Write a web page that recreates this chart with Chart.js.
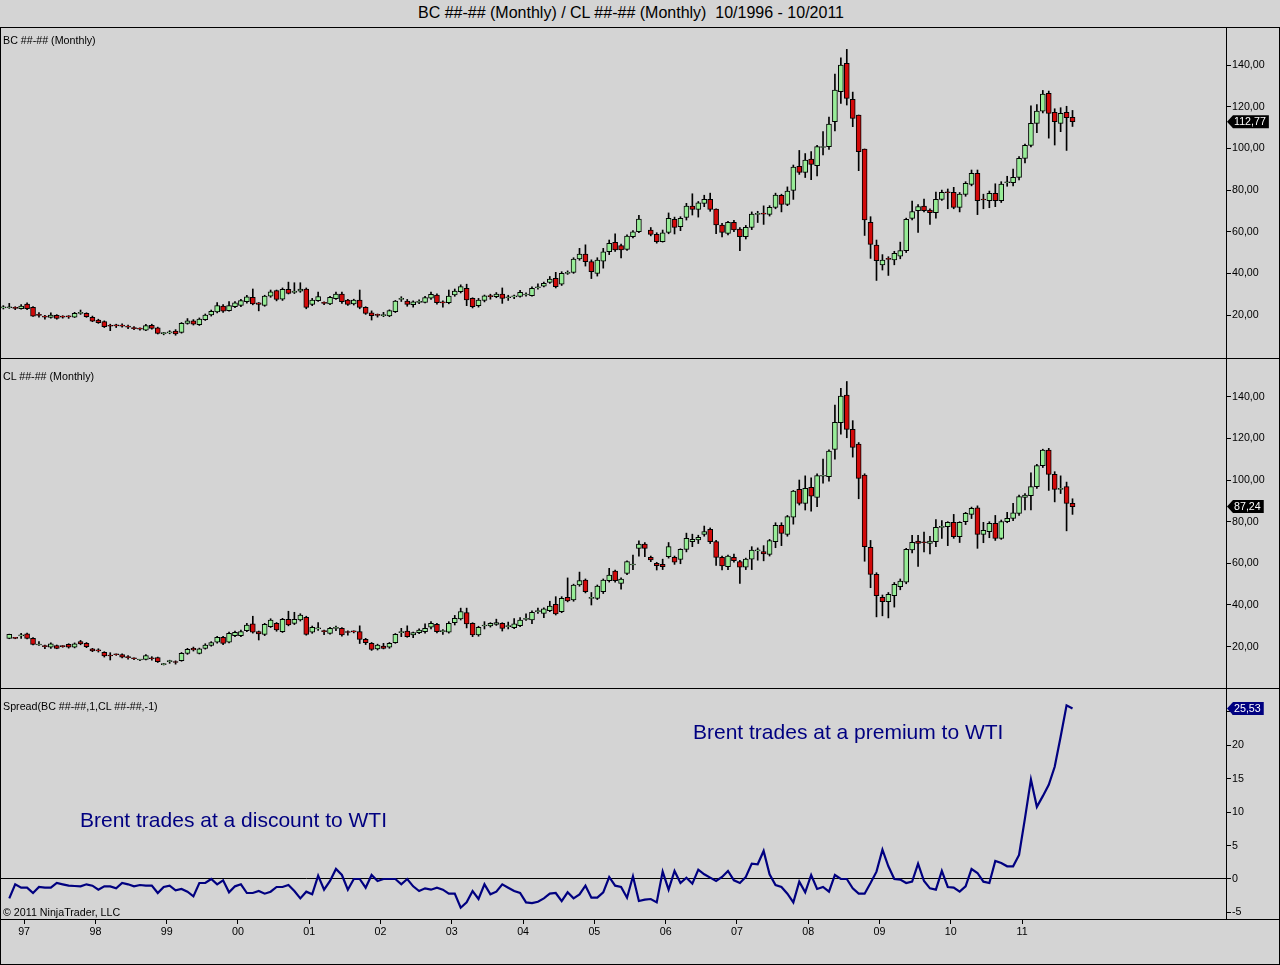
<!DOCTYPE html>
<html>
<head>
<meta charset="utf-8">
<script src="https://cdn.jsdelivr.net/npm/chart.js@4.4.0/dist/chart.umd.min.js"></script>
<style>
body { margin:0; background:#d4d4d4; width:1280px; height:965px; overflow:hidden; position:relative; font-family:"Liberation Sans", Arial, sans-serif; }
canvas { position:absolute; left:0; }
.hl { position:absolute; left:0; width:1280px; height:1px; background:#000; z-index:4; }
.vl { position:absolute; top:27px; width:1px; height:938px; background:#000; z-index:4; }
.lbl { position:absolute; left:3px; font-size:10.7px; line-height:12px; color:#000; white-space:pre; z-index:3; }
.note { position:absolute; font-size:21px; line-height:21px; color:#000080; white-space:pre; z-index:3; }
#title { position:absolute; left:418px; top:4px; font-size:16px; line-height:18px; white-space:pre; color:#000; }
</style>
</head>
<body>
<div id="title">BC ##-## (Monthly) / CL ##-## (Monthly)  10/1996 - 10/2011</div>

<canvas id="bcChart" width="1280" height="330" style="top:28px"></canvas>
<canvas id="clChart" width="1280" height="329" style="top:359px"></canvas>
<canvas id="spreadChart" width="1280" height="276" style="top:689px"></canvas>

<div class="hl" style="top:27px"></div>
<div class="hl" style="top:358px"></div>
<div class="hl" style="top:688px"></div>
<div class="hl" style="top:919px"></div>
<div class="hl" style="top:964px"></div>
<div class="vl" style="left:0"></div>
<div class="vl" style="left:1279px"></div>

<div class="lbl" style="top:34px">BC ##-## (Monthly)</div>
<div class="lbl" style="top:370px">CL ##-## (Monthly)</div>
<div class="lbl" style="top:700px">Spread(BC ##-##,1,CL ##-##,-1)</div>
<div class="lbl" style="top:906px">© 2011 NinjaTrader, LLC</div>
<div class="note" style="left:693px;top:721px">Brent trades at a premium to WTI</div>
<div class="note" style="left:80px;top:809px">Brent trades at a discount to WTI</div>

<script>
// monthly bars 10/1996 .. 10/2011, index 0 = Oct 1996
const bcOpen = [
 23.4,23.5,23.4,23.0,25.3,23.7,20.0,19.3,18.9,19.9,
 19.2,19.2,19.0,20.8,20.8,18.9,17.6,16.8,14.8,14.9,
 14.9,14.6,14.0,13.6,12.7,15.0,13.9,11.1,11.4,12.3,
 11.6,16.0,17.2,15.4,17.8,20.0,21.5,24.3,22.1,24.0,
 24.6,26.4,28.5,25.9,24.6,29.0,31.7,27.6,32.3,30.8,
 31.5,32.5,25.1,26.9,25.8,25.3,27.9,30.1,27.2,25.3,
 27.2,23.7,21.1,19.9,19.7,19.6,21.6,27.5,26.7,25.0,
 26.1,26.1,28.1,29.6,26.0,25.9,29.6,31.2,32.8,28.0,
 24.5,27.0,28.9,28.8,30.1,28.3,28.7,28.9,29.6,29.3,
 33.1,33.9,35.7,37.6,34.8,40.0,40.4,46.9,49.2,45.6,
 40.0,45.9,50.4,54.9,53.3,51.5,57.6,60.0,null,60.8,
 58.7,55.2,59.7,65.9,62.4,66.8,72.3,70.7,73.6,75.5,
 70.9,63.2,59.2,64.5,61.3,57.6,62.1,68.3,68.5,68.3,
 71.7,77.4,73.1,79.8,91.4,88.5,94.9,91.7,100.4,100.8,
 112.8,127.2,140.8,123.5,116.0,99.7,64.5,53.6,44.0,46.8,
 46.4,48.3,50.9,66.4,70.1,72.3,70.4,69.1,75.5,78.8,
 78.9,71.7,77.9,82.7,88.0,75.4,74.9,78.4,74.9,83.5,
 83.5,86.1,95.2,101.4,112.0,117.9,126.4,117.3,112.0,117.3,114.9
];
const bcHigh = [
 24.5,25.6,24.0,25.0,25.8,24.0,21.2,19.8,21.0,20.2,
 19.7,19.7,21.3,22.4,21.1,19.5,18.0,17.2,15.6,15.6,
 15.8,15.2,14.5,13.8,15.5,15.6,14.2,11.7,12.5,13.0,
 16.4,18.3,17.8,18.6,20.5,22.4,26.0,25.0,26.5,26.5,
 27.5,29.5,32.5,26.0,29.5,32.0,32.0,33.0,35.8,35.5,
 35.5,33.0,28.0,31.0,26.3,29.0,31.0,31.0,27.5,27.6,
 32.0,24.0,22.0,20.5,21.3,22.5,27.0,28.8,27.5,26.8,
 27.3,29.0,31.0,30.2,26.8,32.0,32.5,34.5,34.8,28.3,
 28.0,29.6,30.0,30.8,33.0,29.5,29.6,31.8,30.6,33.5,
 35.0,35.8,38.5,40.5,40.8,41.2,47.5,52.0,53.7,46.5,
 47.5,52.0,56.0,59.0,54.0,58.5,60.5,67.9,null,62.0,
 59.5,60.8,69.0,67.0,67.2,73.6,78.2,74.5,77.5,78.5,
 71.0,64.0,65.0,65.5,62.0,63.0,69.5,69.8,72.4,72.5,
 78.5,78.0,81.5,92.0,99.0,97.5,98.5,101.5,108.0,115.0,
 135.7,143.5,147.5,127.0,116.0,99.7,67.2,56.0,49.0,48.0,
 50.6,55.0,66.5,74.7,73.0,75.6,71.0,79.0,80.0,80.5,
 81.3,78.8,84.0,89.6,89.6,78.0,79.5,83.0,84.0,86.6,
 90.0,96.0,102.0,120.4,121.0,127.8,127.5,119.0,119.5,120.2,118.2
];
const bcLow = [
 22.9,23.2,22.6,22.8,22.6,19.3,19.0,18.0,18.5,18.0,
 18.5,18.4,18.8,20.3,18.9,16.8,16.0,14.0,12.5,14.0,
 14.2,13.5,13.0,12.7,12.5,13.2,10.9,10.5,11.0,10.3,
 11.3,15.6,15.2,15.0,17.4,19.5,21.0,21.2,21.8,23.5,
 24.0,25.7,24.9,22.0,24.2,28.5,26.8,27.0,30.1,30.3,
 30.9,23.0,24.5,26.5,25.0,25.0,27.5,25.6,24.6,24.8,
 23.0,20.3,17.6,19.0,19.2,19.2,21.2,26.5,24.2,23.8,
 25.4,25.8,27.5,25.2,23.8,25.4,29.0,30.6,24.5,23.4,
 23.8,26.3,27.6,28.3,25.6,27.0,27.8,28.6,29.0,29.0,
 32.4,33.5,35.2,33.0,34.2,39.5,40.0,46.3,43.5,37.5,
 38.7,42.5,49.0,50.5,47.4,51.0,57.0,59.5,null,58.0,
 54.5,55.0,59.0,58.9,60.5,65.6,68.0,67.0,72.0,69.8,
 59.0,57.5,58.5,60.0,50.9,56.5,61.0,64.4,63.5,67.5,
 71.0,69.5,72.5,75.5,87.5,86.0,85.0,86.8,96.8,99.5,
 108.4,121.6,120.8,110.4,89.3,58.2,47.2,36.6,41.6,39.0,
 44.1,47.0,50.0,65.6,59.6,69.5,63.5,66.5,75.0,71.0,
 71.0,69.5,77.0,82.0,68.2,71.0,71.5,72.0,74.0,81.8,
 82.0,84.8,93.0,100.7,107.5,117.0,104.9,101.6,108.0,99.0,110.5
];
const bcClose = [
 23.6,23.6,23.2,24.3,23.0,19.5,19.8,19.0,20.0,18.4,
 19.0,19.1,20.8,20.9,19.2,17.1,16.3,14.4,14.6,14.8,
 14.7,14.2,13.5,13.2,14.9,13.6,11.2,11.2,11.9,10.9,
 16.0,17.2,15.6,18.0,20.0,21.8,24.5,21.9,24.5,25.9,
 26.9,28.7,25.3,25.1,29.1,31.1,27.5,32.3,30.4,31.5,
 32.5,23.7,27.2,28.8,25.6,28.5,30.1,26.4,25.1,27.2,
 23.7,20.8,19.7,19.8,19.9,22.1,26.7,27.6,25.1,26.3,
 26.2,28.4,29.9,25.9,25.8,29.1,31.5,33.6,27.2,24.0,
 27.2,29.2,28.8,30.1,28.0,28.4,28.9,30.9,30.1,32.8,
 33.2,35.2,37.3,33.6,40.0,40.1,46.9,49.3,45.6,40.8,
 46.4,50.3,54.4,51.2,51.2,57.9,59.9,66.0,null,58.7,
 55.2,59.5,66.4,62.1,66.4,72.3,70.7,73.9,75.5,70.7,
 63.2,59.7,64.5,60.8,57.6,62.1,68.5,68.4,68.4,71.7,
 77.6,73.1,79.5,91.0,88.5,94.4,92.3,100.8,100.5,111.7,
 128.0,140.0,124.0,114.4,98.4,65.6,53.9,46.1,46.4,46.7,
 49.6,50.9,65.9,69.6,72.1,70.1,69.1,75.5,78.9,78.7,
 71.7,78.1,83.2,88.0,74.9,75.2,78.4,74.9,82.9,83.7,
 86.1,95.2,101.4,112.0,117.9,126.1,116.8,112.8,116.8,114.7,112.77
];

const clOpen = [
 null,24.0,24.1,25.2,26.1,24.0,20.8,20.1,19.7,20.5,
 20.1,21.1,19.7,22.4,21.6,18.9,18.1,17.3,15.6,16.2,
 16.2,14.8,14.3,13.6,13.9,14.4,14.7,11.4,12.8,12.5,
 13.3,16.8,19.2,16.8,19.2,20.6,22.1,24.5,22.1,25.3,
 25.3,27.7,30.9,27.2,25.9,29.6,31.2,27.2,33.1,31.2,
 32.8,34.1,26.9,28.5,27.3,26.4,28.8,28.8,26.9,27.2,
 27.2,23.5,21.6,18.9,20.3,19.7,21.9,26.7,27.5,25.6,
 26.7,27.2,29.3,30.7,27.2,26.9,31.5,33.3,36.3,31.2,
 25.6,29.9,29.9,30.7,31.2,29.6,29.1,30.1,33.1,32.8,
 36.8,36.0,37.3,40.3,36.8,43.7,42.4,49.6,52.0,43.2,
 43.2,46.4,51.7,56.3,50.4,55.2,59.2,67.2,69.3,62.9,
 60.0,59.5,63.2,62.9,61.9,66.7,70.4,71.2,73.9,76.3,
 70.4,62.9,58.4,62.9,60.8,58.1,62.0,66.0,65.6,64.3,
 70.4,78.2,73.9,82.2,95.5,88.8,96.5,91.7,101.8,101.6,
 114.7,127.5,140.8,124.3,117.3,102.4,67.7,54.7,43.7,41.6,
 44.5,48.8,50.9,66.4,70.7,70.0,69.6,70.4,77.3,77.6,
 79.7,72.8,80.0,83.5,86.7,73.9,75.2,79.2,72.0,80.0,
 81.6,84.0,91.7,92.5,96.8,106.9,114.4,102.7,95.5,96.8,88.8
];
const clHigh = [
 null,26.0,24.3,26.4,26.5,24.3,22.4,20.8,21.8,20.8,
 20.5,21.4,21.8,23.0,22.0,19.2,19.0,17.6,17.1,16.5,
 16.5,15.7,14.6,13.9,16.2,15.2,15.0,12.0,13.5,13.2,
 17.2,19.2,19.8,19.3,21.4,22.4,25.0,25.0,27.0,27.5,
 27.9,31.2,34.6,27.5,31.2,33.4,31.6,33.6,37.0,36.5,
 35.8,34.6,29.9,31.5,28.0,29.3,29.9,29.2,27.6,27.6,
 30.0,24.0,22.0,21.2,21.6,22.0,26.3,28.8,30.0,27.0,
 28.5,31.0,32.0,31.2,28.2,32.0,35.0,38.5,38.5,31.5,
 29.8,32.0,31.5,33.2,31.5,31.8,33.5,33.9,35.8,37.2,
 38.5,38.6,41.8,44.0,44.0,53.0,50.0,55.8,52.5,46.0,
 49.6,52.5,57.6,56.8,53.0,61.2,64.0,70.8,70.0,63.5,
 60.5,62.0,70.0,63.5,67.0,74.5,74.0,73.5,77.9,77.0,
 71.0,63.5,64.0,64.4,61.5,62.5,68.0,67.4,68.5,71.5,
 79.5,79.5,83.0,95.0,100.0,102.0,101.0,103.0,110.0,114.5,
 136.0,144.0,147.3,128.5,118.0,103.0,71.0,55.5,44.8,46.0,
 50.8,52.5,67.2,73.4,73.5,75.0,73.0,81.0,80.5,80.0,
 83.5,80.0,84.5,87.0,87.6,79.7,80.0,83.0,80.8,84.5,
 88.8,92.8,93.5,103.5,107.5,114.8,115.2,104.0,102.0,99.0,91.0
];
const clLow = [
 null,23.8,23.8,24.0,23.7,20.8,20.6,19.0,19.2,19.0,
 19.7,19.3,19.4,20.9,19.5,17.6,17.4,15.0,13.6,15.8,
 14.6,14.0,13.8,13.3,13.6,13.5,12.4,11.2,12.0,11.6,
 13.0,16.3,17.9,16.5,18.8,20.2,21.7,21.0,21.8,24.8,
 24.8,27.2,26.5,23.2,25.3,29.2,27.4,26.8,30.0,30.6,
 32.3,25.5,26.4,27.8,25.8,26.0,27.7,25.0,25.5,26.6,
 21.5,21.0,18.2,18.4,18.9,19.2,21.6,24.8,24.5,24.3,
 26.2,26.5,28.5,26.6,25.9,26.5,30.4,32.8,29.0,24.8,
 25.0,28.5,29.4,30.2,27.5,28.5,28.6,29.6,32.6,31.0,
 36.0,33.9,36.8,35.2,36.3,41.5,41.8,49.0,45.8,40.0,
 42.6,45.5,51.0,51.0,47.6,54.6,57.0,63.5,63.2,60.8,
 56.8,57.0,62.5,59.5,59.8,65.5,68.0,69.5,73.0,69.5,
 59.0,56.8,57.0,60.5,50.3,57.0,57.0,61.5,61.2,63.5,
 67.5,68.5,73.0,78.8,88.0,85.6,85.0,87.2,98.5,99.5,
 110.0,122.0,120.3,111.0,91.0,61.0,48.3,34.3,34.8,33.8,
 39.0,47.3,50.2,65.0,58.5,65.5,64.5,68.0,72.0,68.5,
 72.0,70.0,78.6,81.5,67.2,69.9,72.3,71.0,71.5,79.5,
 80.5,83.0,85.6,85.6,96.0,106.0,95.0,89.5,93.5,75.6,83.5
];
const clClose = [
 null,25.9,24.0,25.3,24.0,21.1,20.8,20.0,21.3,19.2,
 20.0,19.7,21.3,21.3,20.0,17.9,18.0,15.5,15.5,16.1,
 14.9,14.7,14.2,13.6,15.7,14.2,12.8,11.6,12.9,12.4,
 16.8,18.7,18.4,18.9,20.8,21.9,24.5,21.6,26.4,26.9,
 27.2,30.4,26.9,26.1,30.7,32.8,28.0,33.1,30.4,33.1,
 35.2,25.9,29.3,28.5,27.2,28.8,28.9,25.6,26.8,27.1,
 23.5,21.9,18.7,20.8,19.2,21.6,25.9,27.0,24.8,26.7,
 28.0,28.8,31.2,27.2,27.2,31.2,33.6,36.8,30.9,25.6,
 29.3,30.0,31.2,31.5,28.8,29.6,30.9,32.8,33.2,36.5,
 36.8,38.1,39.5,35.7,43.2,41.9,49.6,51.7,46.4,43.3,
 49.1,52.0,54.4,51.7,52.5,60.8,59.2,69.3,67.2,61.6,
 58.9,58.4,68.0,60.5,66.7,72.0,71.5,72.5,75.2,70.4,
 62.9,58.7,63.5,61.3,58.1,62.1,66.4,66.1,64.5,70.9,
 78.2,74.4,82.4,94.7,88.8,96.0,92.3,102.1,102.0,113.9,
 127.7,140.3,124.3,115.7,100.8,68.0,54.7,44.5,41.6,45.1,
 49.9,51.5,66.7,70.1,69.6,69.9,70.7,77.3,77.3,79.7,
 72.8,79.7,84.0,86.4,73.9,75.8,79.2,72.0,80.0,81.6,
 84.3,92.0,92.8,96.8,106.9,114.4,102.7,95.5,96.0,88.8,87.24
];

// spread BC - CL, starts at bar 1 (Nov 1996)
const spreadVals = [
 -2.9,-0.8,-1.3,-1.3,-2.1,-1.2,-1.3,-1.3,-0.6,-0.8,
 -1.0,-1.05,-1.1,-0.8,-1.0,-1.6,-1.1,-1.1,-1.4,-0.6,
 -0.8,-1.1,-0.9,-1.0,-1.0,-2.1,-1.2,-1.0,-1.7,-1.5,
 -1.9,-2.6,-0.6,-0.6,0.0,-0.8,-0.2,-2.0,-1.1,-0.8,
 -2.1,-2.1,-1.8,-2.2,-1.9,-1.2,-1.2,-0.9,-1.8,-2.9,
 -1.9,-2.3,0.5,-1.6,-0.3,1.5,0.6,-1.6,0.0,0.0,
 -1.3,0.6,-0.3,0.0,0.0,0.0,-0.8,0.0,-1.1,-1.8,
 -1.4,-1.6,-1.3,-1.6,-2.2,-2.2,-4.3,-3.5,-1.8,-3.0,
 -0.8,-2.3,-1.9,-0.8,-1.3,-1.8,-2.1,-3.5,-3.6,-3.4,
 -2.9,-2.2,-2.1,-3.3,-2.0,-2.9,-2.3,-1.0,-2.8,-2.8,
 -2.0,0.3,-1.0,-1.2,-2.8,0.4,-3.3,-3.1,-3.0,-3.5,
 1.1,-1.6,1.2,-0.6,0.2,-0.7,1.4,0.7,0.2,-0.3,
 0.3,1.2,-0.2,-0.6,0.3,2.3,2.2,4.2,0.7,-0.9,
 -1.2,-2.2,-3.5,-0.4,-2.0,0.6,-1.5,-1.2,-1.9,0.6,
 0.0,0.0,-1.4,-2.2,-2.2,-0.6,1.1,4.4,1.9,0.0,
 -0.1,-0.6,-0.4,2.3,-0.3,-1.4,-1.6,1.2,-1.2,-1.3,
 -1.9,-1.1,1.5,0.9,-0.4,-0.6,2.7,2.4,1.9,1.9,
 3.6,9.1,14.9,10.8,12.4,14.1,16.8,21.3,26.0,25.53
];

const yearLabels = ['97','98','99','00','01','02','03','04','05','06','07','08','09','10','11'];
const yearTickPos = [3.5,15.5,27.5,39.5,51.5,63.5,75.5,87.5,99.5,111.5,123.5,135.5,147.5,159.5,171.5];
const priceTicks = [20,40,60,80,100,120,140];
const spreadTicks = [-5,0,5,10,15,20,25];

const upColor = '#98ec98';
const downColor = '#d20a0a';
const navy = '#000080';
const xMin = -0.56, xMax = 205.84;

Chart.defaults.font.family = '"Liberation Sans", Arial, sans-serif';
Chart.defaults.font.size = 10.7;
Chart.defaults.color = '#000';

function candleSets(o, h, l, c) {
    const body = [], wick = [], fill = [];
    for (let i = 0; i < c.length; i++) {
        if (c[i] == null) continue;
        body.push({ x: i, y: [o[i], c[i]] });
        wick.push({ x: i, y: [l[i], h[i]] });
        fill.push(c[i] >= o[i] ? upColor : downColor);
    }
    return [
        { data: body, backgroundColor: fill, borderColor: '#000', borderWidth: 1, borderSkipped: false,
          barThickness: 5, minBarLength: 1, grouped: false, order: 0 },
        { data: wick, backgroundColor: '#000', borderWidth: 0, barThickness: 1, grouped: false, order: 1 }
    ];
}

function fmtPrice(v) { return v.toFixed(2).replace('.', ','); }

// last value tag on the right axis
function tagPlugin(val, bg) {
    return {
        id: 'lastTag',
        afterDraw(chart) {
            const ctx = chart.ctx;
            const y = chart.scales.y.getPixelForValue(val);
            const x = chart.chartArea.right;
            const txt = fmtPrice(val);
            ctx.save();
            ctx.font = '10.7px "Liberation Sans", Arial, sans-serif';
            const w = ctx.measureText(txt).width;
            ctx.fillStyle = bg;
            ctx.beginPath();
            ctx.moveTo(x + 1, y);
            ctx.lineTo(x + 7, y - 6.5);
            ctx.lineTo(x + w + 11, y - 6.5);
            ctx.lineTo(x + w + 11, y + 6.5);
            ctx.lineTo(x + 7, y + 6.5);
            ctx.closePath();
            ctx.fill();
            ctx.fillStyle = '#fff';
            ctx.textBaseline = 'middle';
            ctx.fillText(txt, x + 8, y + 0.5);
            ctx.restore();
        }
    };
}

function yScale(min, max, ticks, fmt, zeroLine) {
    return {
        position: 'right', min: min, max: max, bounds: 'data',
        afterBuildTicks: s => { s.ticks = ticks.map(v => ({ value: v })); },
        afterFit: s => { s.width = 54; s.paddingTop = 0; s.paddingBottom = 0; },
        ticks: { callback: fmt, padding: 1, color: '#000' },
        grid: zeroLine
            ? { drawOnChartArea: true, tickLength: 5, tickColor: '#000',
                color: c => (c.tick && c.tick.value === 0) ? '#000' : 'rgba(0,0,0,0)' }
            : { drawOnChartArea: false, tickLength: 5, color: '#000' },
        border: { display: true, color: '#000' }
    };
}

const baseOpts = {
    responsive: false, animation: false, events: [],
    layout: { padding: 0 },
    plugins: { legend: { display: false }, tooltip: { enabled: false } }
};

new Chart(document.getElementById('bcChart'), {
    type: 'bar',
    data: { datasets: candleSets(bcOpen, bcHigh, bcLow, bcClose) },
    options: Object.assign({}, baseOpts, {
        scales: {
            x: { type: 'linear', display: false, min: xMin, max: xMax, offset: false, bounds: 'data' },
            y: yScale(-0.62, 157.76, priceTicks, fmtPrice, false)
        }
    }),
    plugins: [tagPlugin(bcClose[bcClose.length - 1], '#000')]
});

new Chart(document.getElementById('clChart'), {
    type: 'bar',
    data: { datasets: candleSets(clOpen, clHigh, clLow, clClose) },
    options: Object.assign({}, baseOpts, {
        scales: {
            x: { type: 'linear', display: false, min: xMin, max: xMax, offset: false, bounds: 'data' },
            y: yScale(0.15, 158.1, priceTicks, fmtPrice, false)
        }
    }),
    plugins: [tagPlugin(clClose[clClose.length - 1], '#000')]
});

new Chart(document.getElementById('spreadChart'), {
    type: 'line',
    data: {
        datasets: [{
            data: spreadVals.map((v, k) => ({ x: k + 1, y: v })),
            borderColor: navy, borderWidth: 2.2, pointRadius: 0, tension: 0, fill: false
        }]
    },
    options: Object.assign({}, baseOpts, {
        scales: {
            x: {
                type: 'linear', position: 'bottom', min: xMin, max: xMax, offset: false, bounds: 'data',
                afterBuildTicks: s => { s.ticks = yearTickPos.map(v => ({ value: v })); },
                afterFit: s => { s.height = 46; s.paddingLeft = 0; s.paddingRight = 0; },
                ticks: { autoSkip: false, maxRotation: 0, padding: 2, color: '#000',
                         callback: (v, i) => yearLabels[i] },
                grid: { drawOnChartArea: false, tickLength: 5, color: '#000' },
                border: { display: true, color: '#000' }
            },
            y: yScale(-5.99, 28.44, spreadTicks, v => String(v), true)
        }
    }),
    plugins: [tagPlugin(spreadVals[spreadVals.length - 1], navy)]
});
</script>
</body>
</html>
